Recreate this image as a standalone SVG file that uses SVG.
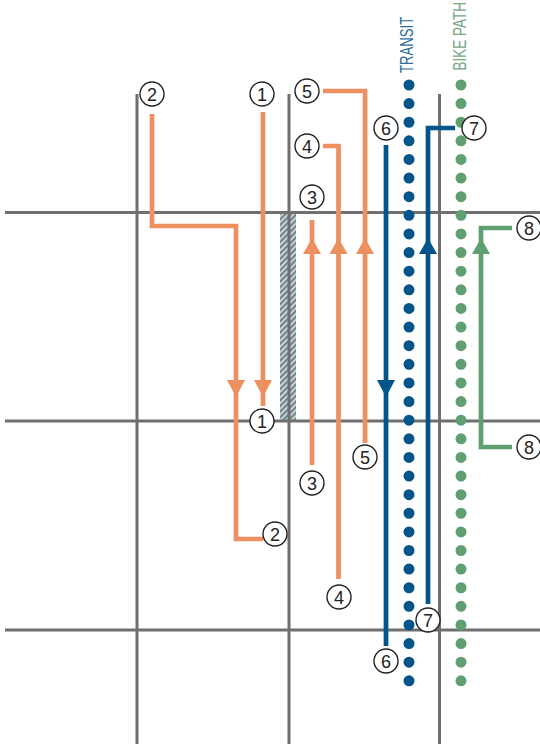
<svg xmlns="http://www.w3.org/2000/svg" width="540" height="746" viewBox="0 0 540 746">
<style>
.street{stroke:#6f6f6f;stroke-width:3;fill:none}
.route{fill:none;stroke-width:4.700}
.o{stroke:#ec905f}.b{stroke:#02558b}.g{stroke:#609f70}
.dots{fill:none;stroke-width:11;stroke-linecap:round;stroke-dasharray:0 18.62}
.head-o{fill:#ec905f}.head-b{fill:#02558b}.head-g{fill:#609f70}
.badge circle{fill:#fff;stroke:#222;stroke-width:1.4}
.badge text{font-family:"Liberation Sans",Arial,sans-serif;font-size:18px;fill:#222;text-anchor:middle}
.cap{font-family:"Liberation Sans",Arial,sans-serif;font-size:18px}
</style>
<defs>
<pattern id="hatch" width="4" height="4" patternUnits="userSpaceOnUse" patternTransform="rotate(-45)">
<rect width="4" height="4" fill="#dfe5e7"/><rect width="4" height="2.400" fill="#6e858e"/>
</pattern>
</defs>
<rect width="540" height="746" fill="#fff"/>
<g id="crossing"><rect x="280" y="213" width="16" height="207" fill="url(#hatch)"/></g>
<g id="streets">
<path class="street" d="M137 94V744M289 94V744M439.500 94V744M5 212.500H540M5 421H540M5 630H540"/>
</g>
<g id="lines">
<path id="transit-line" class="dots b" d="M409 85V681"/>
<path id="bike-line" class="dots g" d="M461 85V681"/>
<text class="cap" transform="translate(412.500 73) rotate(-90) scale(.73 1)" fill="#2f6d97">TRANSIT</text>
<text class="cap" transform="translate(466 70.500) rotate(-90) scale(.75 1)" fill="#74a982">BIKE PATH</text>
</g>
<g id="connectors">
<path class="route o" d="M152 114V226H236V539H263"/>
<path class="route o" d="M263 112V406"/>
<path class="route o" d="M312 220V465"/>
<path class="route o" d="M323 146H338.500V579"/>
<path class="route o" d="M323 91H365V443"/>
<path class="route b" d="M386 145V646"/>
<path class="route b" d="M428 604V128H455"/>
<path class="route g" d="M512 228H481V447H512"/>
<path class="head-o" d="M227 380h18l-9 17zM254 380h18l-9 17z"/>
<path class="head-b" d="M377 380h18l-9 17z"/>
<path class="head-o" d="M303 254h18l-9-16zM329.500 254h18l-9-16zM356 254h18l-9-16z"/>
<path class="head-b" d="M419 254h18l-9-16z"/>
<path class="head-g" d="M472 254h18l-9-16z"/>
</g>
<g id="n1a" class="badge"><circle cx="262" cy="94" r="12"/><text x="262" y="100.500">1</text></g>
<g id="n1b" class="badge"><circle cx="262" cy="421" r="12"/><text x="262" y="427.500">1</text></g>
<g id="n2a" class="badge"><circle cx="152" cy="94" r="12"/><text x="152" y="100.500">2</text></g>
<g id="n2b" class="badge"><circle cx="275" cy="534" r="12"/><text x="275" y="540.500">2</text></g>
<g id="n3a" class="badge"><circle cx="312" cy="197" r="12"/><text x="312" y="203.500">3</text></g>
<g id="n3b" class="badge"><circle cx="312" cy="483" r="12"/><text x="312" y="489.500">3</text></g>
<g id="n4a" class="badge"><circle cx="307" cy="146" r="12"/><text x="307" y="152.500">4</text></g>
<g id="n4b" class="badge"><circle cx="339" cy="597" r="12"/><text x="339" y="603.500">4</text></g>
<g id="n5a" class="badge"><circle cx="307" cy="91" r="12"/><text x="307" y="97.500">5</text></g>
<g id="n5b" class="badge"><circle cx="365" cy="457" r="12"/><text x="365" y="463.500">5</text></g>
<g id="n6a" class="badge"><circle cx="386" cy="128" r="12"/><text x="386" y="134.500">6</text></g>
<g id="n6b" class="badge"><circle cx="386" cy="661" r="12"/><text x="386" y="667.500">6</text></g>
<g id="n7a" class="badge"><circle cx="474" cy="128" r="12"/><text x="474" y="134.500">7</text></g>
<g id="n7b" class="badge"><circle cx="428" cy="620" r="12"/><text x="428" y="626.500">7</text></g>
<g id="n8a" class="badge"><circle cx="529" cy="228" r="12"/><text x="529" y="234.500">8</text></g>
<g id="n8b" class="badge"><circle cx="529" cy="447" r="12"/><text x="529" y="453.500">8</text></g>
</svg>
